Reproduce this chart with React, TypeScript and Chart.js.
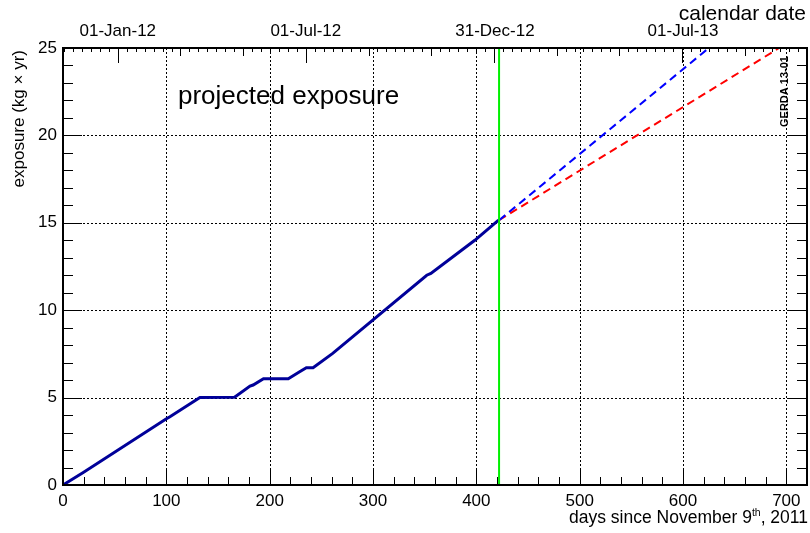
import React, { useEffect, useRef } from "react";
import { Chart, registerables } from "chart.js";

Chart.register(...registerables);

// ---- data ----
const measuredDays = [0, 19.6, 99.3, 103.5, 132.5, 166, 181, 184, 194, 218, 229, 235.5, 242, 261, 352, 356, 398.5, 421.5];
const measuredExposure = [0, 0.72, 3.76, 3.9, 5.0, 5.02, 5.66, 5.72, 6.08, 6.08, 6.48, 6.71, 6.71, 7.53, 12.0, 12.1, 14.0, 15.15];

const projHighDays = [422, 625];
const projHighExposure = [15.15, 25];
const projLowDays = [422, 693];
const projLowExposure = [15.15, 25];

const todayDay = [422, 422];
const todayExposure = [0, 25];

const xMajorTicks = [0, 100, 200, 300, 400, 500, 600, 700];
const yMajorTicks = [0, 5, 10, 15, 20, 25];
const dateTickDays = [53, 235, 418, 600];
const dateTickLabels = ["01-Jan-12", "01-Jul-12", "31-Dec-12", "01-Jul-13"];

const X_MIN = 0;
const X_MAX = 720;
const Y_MIN = 0;
const Y_MAX = 25;

const FONT = "'Liberation Sans', Arial, Helvetica, sans-serif";

const toPts = (xs: number[], ys: number[]) => xs.map((x, i) => ({ x, y: ys[i] }));

const rootFramePlugin = {
  id: "rootFrame",
  beforeDatasetsDraw(chart: any) {
    const { ctx, chartArea: a, scales } = chart;
    const xs = scales.x;
    const ys = scales.y;
    ctx.save();
    ctx.strokeStyle = "#000";
    ctx.lineWidth = 1;
    ctx.setLineDash([2, 2]);
    for (const v of xMajorTicks) {
      if (v === X_MIN) continue;
      const px = Math.round(xs.getPixelForValue(v)) + 0.5;
      ctx.beginPath();
      ctx.moveTo(px, a.top);
      ctx.lineTo(px, a.bottom);
      ctx.stroke();
    }
    for (const v of yMajorTicks) {
      if (v === Y_MIN || v === Y_MAX) continue;
      const py = Math.round(ys.getPixelForValue(v)) + 0.5;
      ctx.beginPath();
      ctx.moveTo(a.left, py);
      ctx.lineTo(a.right, py);
      ctx.stroke();
    }
    ctx.restore();
  },
  afterDatasetsDraw(chart: any) {
    const { ctx, chartArea: a, scales } = chart;
    const xs = scales.x;
    const ys = scales.y;
    ctx.save();
    ctx.strokeStyle = "#000";
    ctx.lineWidth = 1;
    ctx.setLineDash([]);
    const seg = (x1: number, y1: number, x2: number, y2: number) => {
      ctx.beginPath();
      ctx.moveTo(x1, y1);
      ctx.lineTo(x2, y2);
      ctx.stroke();
    };
    // bottom axis ticks
    for (let v = X_MIN; v <= X_MAX; v += 20) {
      const px = Math.round(xs.getPixelForValue(v)) + 0.5;
      const len = v % 100 === 0 ? 16 : 8;
      seg(px, a.bottom, px, a.bottom - len);
    }
    // left / right axis ticks
    for (let v = Y_MIN; v <= Y_MAX; v += 1) {
      const py = Math.round(ys.getPixelForValue(v)) + 0.5;
      const len = v % 5 === 0 ? 19 : 10;
      seg(a.left, py, a.left + len, py);
      seg(a.right, py, a.right - len, py);
    }
    // top (calendar) axis ticks
    const step = (dateTickDays[1] - dateTickDays[0]) / 21;
    const kMin = Math.ceil((X_MIN - dateTickDays[0]) / step);
    const kMax = Math.floor((X_MAX - dateTickDays[0]) / step);
    for (let k = kMin; k <= kMax; k++) {
      const d = dateTickDays[0] + k * step;
      const px = Math.round(xs.getPixelForValue(d)) + 0.5;
      const kk = ((k % 21) + 21) % 21;
      const len = kk === 0 ? 15 : kk % 7 === 0 ? 8 : 4;
      seg(px, a.top, px, a.top + len);
    }
    // frame
    ctx.lineWidth = 2;
    ctx.strokeRect(a.left, a.top, a.right - a.left, a.bottom - a.top);

    // texts
    ctx.fillStyle = "#000";
    ctx.textBaseline = "alphabetic";

    ctx.font = `21px ${FONT}`;
    ctx.textAlign = "right";
    ctx.fillText("calendar date", 806, 20);

    ctx.font = `26px ${FONT}`;
    ctx.textAlign = "left";
    ctx.fillText("projected exposure", 178, 104);

    // y title
    ctx.save();
    ctx.translate(24, 50);
    ctx.rotate(-Math.PI / 2);
    ctx.font = `17px ${FONT}`;
    ctx.textAlign = "right";
    ctx.fillText("exposure (kg \u00d7 yr)", 0, 0);
    ctx.restore();

    // GERDA label
    ctx.save();
    ctx.translate(788, 127);
    ctx.rotate(-Math.PI / 2);
    ctx.font = `bold 11px ${FONT}`;
    ctx.textAlign = "left";
    ctx.fillText("GERDA 13-01", 0, 0);
    ctx.restore();

    // x title with superscript
    const p1 = "days since November 9";
    const p2 = "th";
    const p3 = ", 2011";
    ctx.textAlign = "left";
    ctx.font = `17.5px ${FONT}`;
    const w1 = ctx.measureText(p1).width;
    const w3 = ctx.measureText(p3).width;
    ctx.font = `10.5px ${FONT}`;
    const w2 = ctx.measureText(p2).width;
    const xEnd = 808;
    const x0 = xEnd - (w1 + w2 + w3);
    const base = 523;
    ctx.font = `17.5px ${FONT}`;
    ctx.fillText(p1, x0, base);
    ctx.font = `10.5px ${FONT}`;
    ctx.fillText(p2, x0 + w1, base - 7);
    ctx.font = `17.5px ${FONT}`;
    ctx.fillText(p3, x0 + w1 + w2, base);

    ctx.restore();
  },
};

export default function App() {
  const canvasRef = useRef<HTMLCanvasElement | null>(null);

  useEffect(() => {
    const canvas = canvasRef.current;
    if (!canvas) return;
    const tickFont = { family: FONT, size: 17 };
    const chart = new Chart(canvas, {
      type: "scatter",
      data: {
        datasets: [
          {
            label: "today",
            data: toPts(todayDay, todayExposure),
            showLine: true,
            borderColor: "#00f000",
            borderWidth: 2,
            pointRadius: 0,
            order: 0,
          },
          {
            label: "measured",
            data: toPts(measuredDays, measuredExposure),
            showLine: true,
            borderColor: "#000099",
            borderWidth: 3,
            pointRadius: 0,
            order: 1,
          },
          {
            label: "projection high",
            data: toPts(projHighDays, projHighExposure),
            showLine: true,
            borderColor: "#0000ff",
            borderWidth: 2,
            borderDash: [8, 5],
            pointRadius: 0,
            order: 2,
          },
          {
            label: "projection low",
            data: toPts(projLowDays, projLowExposure),
            showLine: true,
            borderColor: "#ff0000",
            borderWidth: 2,
            borderDash: [8, 5],
            pointRadius: 0,
            order: 3,
          },
        ],
      },
      options: {
        responsive: false,
        animation: false,
        events: [],
        layout: { padding: { left: 0, right: 3, top: 0, bottom: 0 } },
        plugins: {
          legend: { display: false },
          tooltip: { enabled: false },
        },
        scales: {
          x: {
            type: "linear",
            position: "bottom",
            min: X_MIN,
            max: X_MAX,
            grid: { display: false, drawTicks: false },
            border: { display: false },
            ticks: {
              font: tickFont,
              color: "#000",
              padding: 6,
              autoSkip: false,
              maxRotation: 0,
              minRotation: 0,
              callback: (v: any) => String(v),
            },
            afterBuildTicks: (s: any) => {
              s.ticks = xMajorTicks.map((v) => ({ value: v }));
            },
            afterFit: (s: any) => {
              s.height = 48;
            },
          },
          x2: {
            type: "linear",
            position: "top",
            min: X_MIN,
            max: X_MAX,
            grid: { display: false, drawTicks: false },
            border: { display: false },
            ticks: {
              font: tickFont,
              color: "#000",
              padding: 6,
              autoSkip: false,
              maxRotation: 0,
              minRotation: 0,
              callback: (_v: any, i: number) => dateTickLabels[i],
            },
            afterBuildTicks: (s: any) => {
              s.ticks = dateTickDays.map((v) => ({ value: v }));
            },
            afterFit: (s: any) => {
              s.height = 48;
            },
          },
          y: {
            type: "linear",
            position: "left",
            min: Y_MIN,
            max: Y_MAX,
            grid: { display: false, drawTicks: false },
            border: { display: false },
            ticks: {
              font: tickFont,
              color: "#000",
              padding: 6,
              autoSkip: false,
              callback: (v: any) => String(v),
            },
            afterBuildTicks: (s: any) => {
              s.ticks = yMajorTicks.map((v) => ({ value: v }));
            },
            afterFit: (s: any) => {
              s.width = 63;
            },
          },
        },
      } as any,
      plugins: [rootFramePlugin],
    });
    return () => chart.destroy();
  }, []);

  return (
    <div style={{ position: "fixed", left: 0, top: 0, width: 810, height: 533, background: "#fff" }}>
      <canvas ref={canvasRef} width={810} height={533} style={{ display: "block" }} />
    </div>
  );
}
